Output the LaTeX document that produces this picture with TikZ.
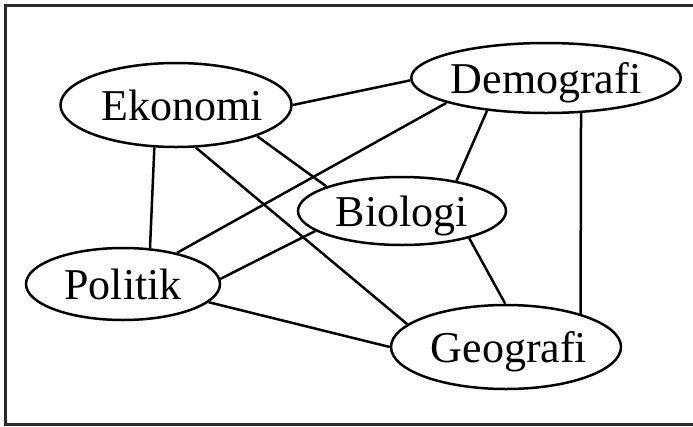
\documentclass[tikz,border=0pt]{standalone}
\usepackage{fontspec}
\setmainfont{Liberation Serif}
\usetikzlibrary{shapes.geometric}
\definecolor{frame}{HTML}{2B2B2B}
\tikzset{
  topic/.style={ellipse, draw, line width=2.5pt, inner sep=0pt,
    text height=30pt, text depth=0pt,
    font=\fontsize{44}{52}\selectfont},
  link/.style={line width=2.5pt},
}
\begin{document}
\begin{tikzpicture}[x=1pt, y=-1pt]
\useasboundingbox (0,0) rectangle (693,426);
\clip (0,0) rectangle (693,426);
% outer frame, its right side runs past the page edge
\draw[frame, line width=3pt] (5,5) rectangle (720,424);

% zero-width boxes keep the ellipse sizes fixed while nudging the words
\node[topic, minimum width=231pt, minimum height=84pt] (eko) at (176,105) {\makebox[0pt]{\hspace*{12pt}Ekonomi}};
\node[topic, minimum width=256pt, minimum height=70pt] (dem) at (546,78) {Demografi};
\node[topic, minimum width=208pt, minimum height=68pt] (bio) at (402,211) {Biologi};
\node[topic, minimum width=194pt, minimum height=72pt] (pol) at (123,284) {Politik};
\node[topic, minimum width=230pt, minimum height=84pt] (geo) at (506,347) {\makebox[0pt]{\hspace*{6pt}Geografi}};

\draw[link] (eko.0.5) -- (dem.181);
\draw[link] (eko.243.4) -- (pol.53);
\draw[link] (eko.-21.4) -- (bio.162.8);
\draw[link] (eko.-65.7) -- (geo.167.6);
\draw[link] (dem.194.6) -- (pol.30);
\draw[link] (dem.209.6) -- (bio.29.6);
\draw[link] (dem.-45) -- (geo.24.9);
\draw[link] (bio.193.2) -- (pol.3.5);
\draw[link] (bio.-22) -- (geo.91.4);
\draw[link] (pol.-12.7) -- (geo.180);
\end{tikzpicture}
\end{document}
